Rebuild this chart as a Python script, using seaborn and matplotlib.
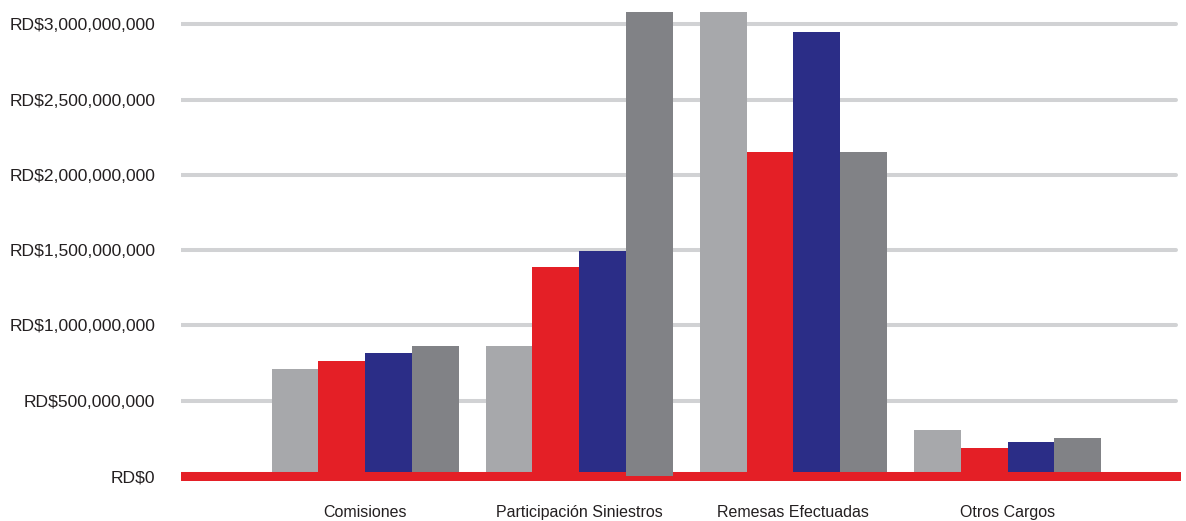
import pandas as pd
import numpy as np
import matplotlib.pyplot as plt
import seaborn as sns
from matplotlib.ticker import FuncFormatter

# --------------------------------------------------
# DATA
# --------------------------------------------------

categories = [
    "Comisiones",
    "Participación Siniestros",
    "Remesas Efectuadas",
    "Otros Cargos",
]

series = ["Serie 1", "Serie 2", "Serie 3", "Serie 4"]

serie_1 = [710e6, 863e6, 3250e6, 305e6]
serie_2 = [764e6, 1388e6, 2151e6, 186e6]
serie_3 = [817e6, 1494e6, 2948e6, 226e6]
serie_4 = [863e6, 3300e6, 2151e6, 252e6]

colors = ["#a7a8ab", "#e41f26", "#2b2d87", "#818286"]

# --------------------------------------------------
# LONG TABLE
# --------------------------------------------------

rows = []
for name, values in zip(series, [serie_1, serie_2, serie_3, serie_4]):
    for cat, v in zip(categories, values):
        rows.append({"Concepto": cat, "Serie": name, "Monto": v})

df = pd.DataFrame(rows)

# --------------------------------------------------
# PLOT
# --------------------------------------------------

sns.set_style("white")
plt.rcParams["font.family"] = ["Liberation Sans", "DejaVu Sans"]

fig = plt.figure(figsize=(11.86, 5.21), dpi=100)
ax = fig.add_axes([181 / 1186, 1 - 481 / 521, 1000 / 1186, 469 / 521])

sns.barplot(
    data=df,
    x="Concepto",
    y="Monto",
    hue="Serie",
    order=categories,
    hue_order=series,
    palette=colors,
    width=0.874,
    gap=0,
    saturation=1,
    linewidth=0,
    legend=False,
    ax=ax,
    zorder=2,
)

# this one bar sits over the baseline in the original
ax.containers[3][1].set_zorder(4)

ax.set_xlim(-0.86, 3.81)
ax.set_ylim(-33e6, 3081e6)

ax.set_yticks(np.arange(0, 3.01e9, 0.5e9))
ax.yaxis.set_major_formatter(
    FuncFormatter(lambda v, p: "RD${:,.0f}".format(v))
)

for y in np.arange(0.5e9, 3.01e9, 0.5e9):
    ax.axhline(y, xmin=0, xmax=0.995, color="#d1d2d4", lw=2.9, zorder=1)

ax.axhline(0, color="#e41f26", lw=6.5, zorder=3)

for s in ax.spines.values():
    s.set_visible(False)

ax.tick_params(axis="y", length=0, pad=18.5, labelsize=12.6, labelcolor="#231f20")
ax.tick_params(axis="x", length=0, pad=17.5, labelsize=11.5, labelcolor="#231f20")

ax.set_xlabel("")
ax.set_ylabel("")

fig.savefig("out.png", dpi=100)
